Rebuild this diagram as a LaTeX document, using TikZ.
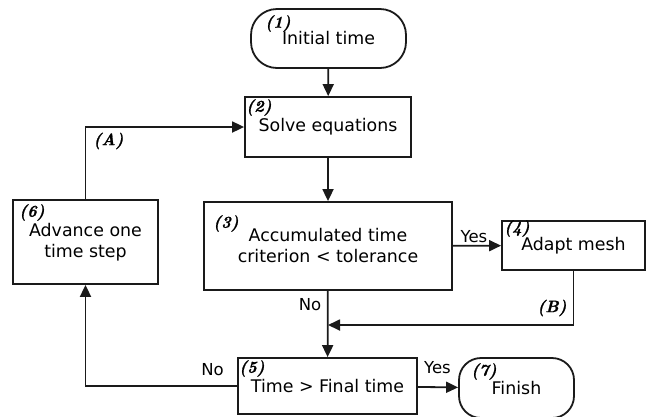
\documentclass[tikz,border=0pt]{standalone}
\usepackage{fontspec}
\setsansfont{DejaVu Sans}
\newfontfamily\tagfont{lmroman10-bolditalic.otf}[FakeBold=1.2]
\usepackage{tikz}
\usetikzlibrary{arrows.meta,shapes,positioning,calc}
\usepackage{xcolor}
\definecolor{fcline}{RGB}{26,26,26}
\tikzstyle{arrow} = [line width=1.8pt,->,>={Triangle[length=12pt,width=11pt]},color=fcline]
\tikzstyle{block} = [draw=fcline, line width=1.8pt, font=\sffamily\fontsize{17.4}{21}\selectfont, align=center, inner sep=0pt]
\tikzstyle{term} = [block, rounded corners=26pt]
\tikzstyle{tag} = [font=\tagfont\fontsize{16.5}{16.5}\selectfont, inner sep=0pt, anchor=north west]
\tikzstyle{lbl} = [font=\sffamily\fontsize{16.5}{18}\selectfont, inner sep=0pt]

\begin{document}
\begin{tikzpicture}[x=1pt, y=-1pt]
    \useasboundingbox (0,0) rectangle (647,416);

    % Steps
    \node[term, minimum width=155pt, minimum height=59pt] (init) at (328.5,38.5) {Initial time};
    \node[block, minimum width=166pt, minimum height=60pt] (solve) at (328,127) {Solve equations};
    \node[block, minimum width=248pt, minimum height=88pt] (crit) at (328,246) {Accumulated time\\criterion < tolerance};
    \node[block, minimum width=143pt, minimum height=49pt] (adapt) at (573.5,245.5) {Adapt mesh};
    \node[block, minimum width=179pt, minimum height=56pt] (check) at (327.5,386) {Time > Final time};
    \node[block, minimum width=145pt, minimum height=84pt] (adv) at (85.5,242) {Advance one\\time step};
    \node[term, rounded corners=22pt, minimum width=115pt, minimum height=60pt] (finish) at (516.5,388) {Finish};

    % Step numbers
    \node[tag] (t1) at ($(init.north west)+(15,7)$) {(1)};
    \node[tag] (t2) at ($(solve.north west)+(2,3)$) {(2)};
    \node[tag] (t3) at ($(crit.north west)+(10,14)$) {(3)};
    \node[tag] (t4) at ($(adapt.north west)+(3,0)$) {(4)};
    \node[tag] (t5) at ($(check.north west)+(2,3)$) {(5)};
    \node[tag] (t6) at ($(adv.north west)+(7,5)$) {(6)};
    \node[tag] (t7) at ($(finish.north west)+(13,6)$) {(7)};

    % Connectors
    \coordinate (merge) at (crit.south |- 0,325);
    \draw[arrow] (init) -- (solve);
    \draw[arrow] (solve) -- (crit);
    \draw[arrow] (crit) -- (adapt);
    \draw[arrow] (crit) -- (check);
    \draw[arrow] (adapt) |- (merge);
    \draw[arrow] (check) -| (adv);
    \draw[arrow] (adv) |- (solve);
    \draw[arrow] (check) -- (finish);

    % Branch labels
    \node[lbl] (yes1) at (474,237) {Yes};
    \node[lbl] (no1) at (310,304.5) {No};
    \node[lbl] (no2) at (212.5,370) {No};
    \node[lbl] (yes2) at (437.5,368) {Yes};
    \node[tag, anchor=center] (la) at (108.5,141) {(A)};
    \node[tag, anchor=center] (lb) at (552,308) {(B)};
\end{tikzpicture}
\end{document}
